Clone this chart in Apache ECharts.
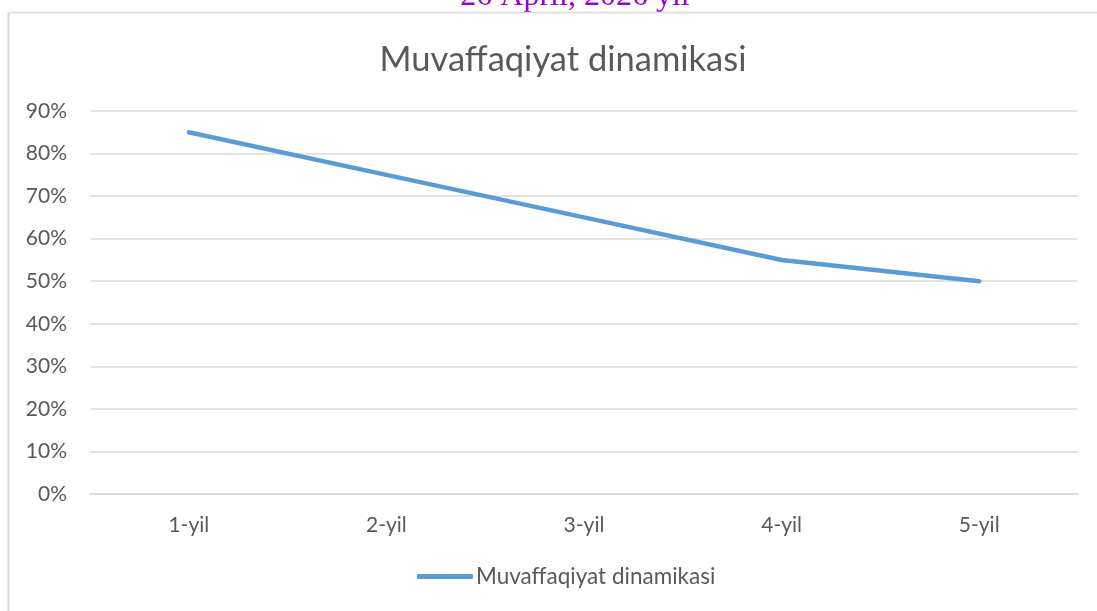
<!DOCTYPE html>
<html>
<head>
<meta charset="utf-8">
<script src="https://cdn.jsdelivr.net/npm/echarts@6/dist/echarts.min.js"></script>
<style>html,body{margin:0;padding:0;background:#fff;}#c{width:1097px;height:611px;}</style>
</head>
<body>
<div id="c"></div>
<script>
const categories = ['1-yil', '2-yil', '3-yil', '4-yil', '5-yil'];
const values = [0.85, 0.75, 0.65, 0.55, 0.50];
const seriesName = 'Muvaffaqiyat dinamikasi';
const chartTitle = 'Muvaffaqiyat dinamikasi';
const headerText = '26 April, 2026 yil';

const chart = echarts.init(document.getElementById('c'));
const font = 'Lato, "Open Sans", sans-serif';
chart.setOption({
  animation: false,
  backgroundColor: '#fff',
  title: {
    text: chartTitle, left: 558, textAlign: 'center', top: 37,
    textStyle: { fontFamily: font, fontSize: 34.5, fontWeight: 'normal', color: '#595959' }
  },
  legend: {
    bottom: 18, left: 412,
    itemWidth: 56, itemHeight: 5, itemGap: 4,
    icon: 'roundRect',
    textStyle: { fontFamily: font, fontSize: 22.5, color: '#595959', padding: [0,0,0,-2] },
    data: [seriesName]
  },
  grid: { left: 90, right: 19, top: 111, bottom: 117 },
  xAxis: {
    type: 'category', data: categories, boundaryGap: true,
    axisLine: { show: true, lineStyle: { color: '#d9d9d9', width: 1.5 } },
    axisTick: { show: false },
    axisLabel: { fontFamily: font, fontSize: 21, color: '#595959', margin: 21 }
  },
  yAxis: {
    type: 'value', min: 0, max: 0.9, interval: 0.1,
    axisLine: { show: false }, axisTick: { show: false },
    splitLine: { lineStyle: { color: '#d9d9d9', width: 1.5 } },
    axisLabel: {
      fontFamily: font, fontSize: 21, color: '#595959', margin: 23,
      formatter: v => Math.round(v * 100) + '%'
    }
  },
  series: [{
    name: seriesName, type: 'line', data: values,
    symbol: 'none', lineStyle: { color: '#5b9bd5', width: 4.5, cap: 'round' },
    itemStyle: { color: '#5b9bd5' }
  }],
  graphic: [
    { type: 'line', shape: { x1: 8.5, y1: 12.5, x2: 1097, y2: 12.5 }, style: { stroke: '#d9d9d9', lineWidth: 1.5 } },
    { type: 'line', shape: { x1: 8.5, y1: 12.5, x2: 8.5, y2: 611 }, style: { stroke: '#d9d9d9', lineWidth: 2 } },
    { type: 'text', x: 575, y: 13, z: -1, style: { text: headerText, fill: '#9b00d3', fontFamily: '"Liberation Serif", serif', fontSize: 32, textAlign: 'center', textVerticalAlign: 'bottom' } }
  ]
});
</script>
</body>
</html>
